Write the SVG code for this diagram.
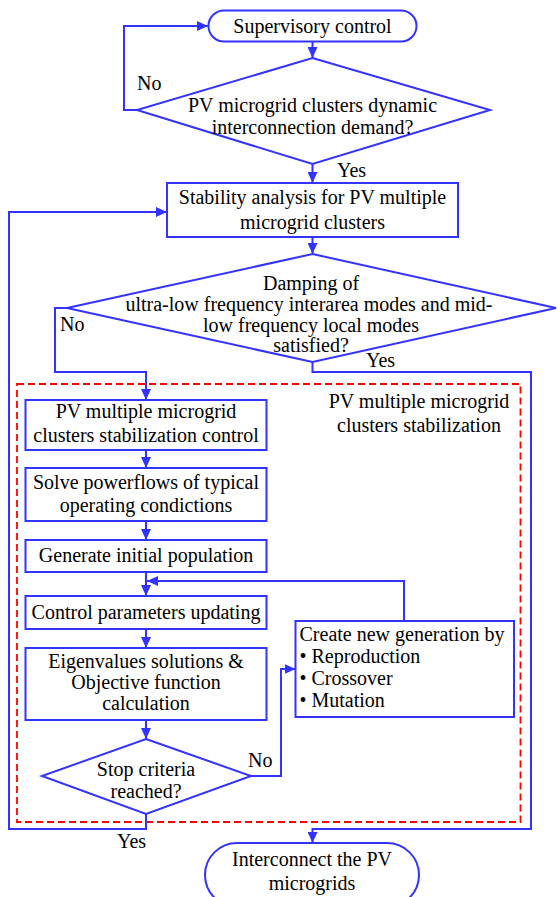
<svg xmlns="http://www.w3.org/2000/svg" width="557" height="897" viewBox="0 0 557 897" font-family="Liberation Serif, serif" font-size="20">
<defs>
<marker id="ah" markerUnits="userSpaceOnUse" markerWidth="12" markerHeight="10" refX="11" refY="5" orient="auto">
<path d="M0,0 L11,5 L0,10 Z" fill="#3333ff"/>
</marker>
</defs>
<rect width="557" height="897" fill="#fff"/>
<g id="cluster">
<rect x="17" y="384" width="503.5" height="438" fill="none" stroke="#ff0000" stroke-width="1.8" stroke-dasharray="7,4"/>
<text text-anchor="middle" style="font-family:Liberation Serif, serif;font-size:20px" x="419" y="408">PV multiple microgrid</text>
<text text-anchor="middle" style="font-family:Liberation Serif, serif;font-size:20px" x="419" y="432">clusters stabilization</text>
</g>
<g id="connectors" fill="none" stroke="#3333ff" stroke-width="2">
<path d="M312.5,41 V58" marker-end="url(#ah)"/>
<path d="M137,110 H124 V26 H208" marker-end="url(#ah)"/>
<path d="M312.5,164 V183" marker-end="url(#ah)"/>
<path d="M312.5,237 V254" marker-end="url(#ah)"/>
<path d="M67,308 H55 V372 H146 V400" marker-end="url(#ah)"/>
<path d="M312.5,362 V372 H531 V829 H312.5 V843" marker-end="url(#ah)"/>
<path d="M146,450 V468" marker-end="url(#ah)"/>
<path d="M146,521 V540" marker-end="url(#ah)"/>
<path d="M146,572 V596" marker-end="url(#ah)"/>
<path d="M404,621 V581 H147" marker-end="url(#ah)"/>
<path d="M146,629 V648" marker-end="url(#ah)"/>
<path d="M146,720 V739" marker-end="url(#ah)"/>
<path d="M251,776 H281 V669 H295.5" marker-end="url(#ah)"/>
<path d="M146,814 V829 H9 V212 H167" marker-end="url(#ah)"/>
</g>
<g id="labels" fill="#000">
<text style="font-family:Liberation Serif, serif;font-size:20px" x="137" y="90">No</text>
<text style="font-family:Liberation Serif, serif;font-size:20px" x="337" y="177">Yes</text>
<text style="font-family:Liberation Serif, serif;font-size:20px" x="60" y="331">No</text>
<text style="font-family:Liberation Serif, serif;font-size:20px" x="366" y="367">Yes</text>
<text style="font-family:Liberation Serif, serif;font-size:20px" x="248" y="767">No</text>
<text style="font-family:Liberation Serif, serif;font-size:20px" x="117" y="848">Yes</text>
</g>
<g id="supervisory">
<rect fill="#fff" stroke="#3333ff" stroke-width="2" x="208.5" y="10.5" width="208" height="31" rx="15.5"/>
<text text-anchor="middle" style="font-family:Liberation Serif, serif;font-size:20px" x="312.5" y="33">Supervisory control</text>
</g>
<g id="demand">
<polygon fill="#fff" stroke="#3333ff" stroke-width="2" points="312.5,58 490,110 312.5,164 137,110"/>
<text text-anchor="middle" style="font-family:Liberation Serif, serif;font-size:20px" x="312.5" y="112">PV microgrid clusters dynamic</text>
<text text-anchor="middle" style="font-family:Liberation Serif, serif;font-size:20px" x="312.5" y="134">interconnection demand?</text>
</g>
<g id="stability">
<rect fill="#fff" stroke="#3333ff" stroke-width="2" x="167" y="183" width="291" height="54"/>
<text text-anchor="middle" style="font-family:Liberation Serif, serif;font-size:20px" x="312.5" y="204">Stability analysis for PV multiple</text>
<text text-anchor="middle" style="font-family:Liberation Serif, serif;font-size:20px" x="312.5" y="229">microgrid clusters</text>
</g>
<g id="damping">
<polygon fill="#fff" stroke="#3333ff" stroke-width="2" points="312.5,254 556,308 312.5,362 67,308"/>
<text text-anchor="middle" style="font-family:Liberation Serif, serif;font-size:20px" x="311" y="290">Damping of</text>
<text text-anchor="middle" style="font-family:Liberation Serif, serif;font-size:20px" x="309" y="311">ultra-low frequency interarea modes and mid-</text>
<text text-anchor="middle" style="font-family:Liberation Serif, serif;font-size:20px" x="311" y="332">low frequency local modes</text>
<text text-anchor="middle" style="font-family:Liberation Serif, serif;font-size:20px" x="311" y="352">satisfied?</text>
</g>
<g id="stab-control">
<rect fill="#fff" stroke="#3333ff" stroke-width="2" x="25.5" y="400" width="241" height="50"/>
<text text-anchor="middle" style="font-family:Liberation Serif, serif;font-size:20px" x="146" y="418">PV multiple microgrid</text>
<text text-anchor="middle" style="font-family:Liberation Serif, serif;font-size:20px" x="146" y="442">clusters stabilization control</text>
</g>
<g id="powerflow">
<rect fill="#fff" stroke="#3333ff" stroke-width="2" x="25.5" y="468" width="241" height="53"/>
<text text-anchor="middle" style="font-family:Liberation Serif, serif;font-size:20px" x="146" y="489">Solve powerflows of typical</text>
<text text-anchor="middle" style="font-family:Liberation Serif, serif;font-size:20px" x="146" y="512">operating condictions</text>
</g>
<g id="init-pop">
<rect fill="#fff" stroke="#3333ff" stroke-width="2" x="25.5" y="540" width="241" height="32"/>
<text text-anchor="middle" style="font-family:Liberation Serif, serif;font-size:20px" x="146" y="562">Generate initial population</text>
</g>
<g id="update">
<rect fill="#fff" stroke="#3333ff" stroke-width="2" x="25.5" y="596" width="241" height="33"/>
<text text-anchor="middle" style="font-family:Liberation Serif, serif;font-size:20px" x="146" y="619">Control parameters updating</text>
</g>
<g id="eigen">
<rect fill="#fff" stroke="#3333ff" stroke-width="2" x="25.5" y="648" width="241" height="72"/>
<text text-anchor="middle" style="font-family:Liberation Serif, serif;font-size:20px" x="146" y="668">Eigenvalues solutions &amp;</text>
<text text-anchor="middle" style="font-family:Liberation Serif, serif;font-size:20px" x="146" y="689">Objective function</text>
<text text-anchor="middle" style="font-family:Liberation Serif, serif;font-size:20px" x="146" y="710">calculation</text>
</g>
<g id="new-gen">
<rect fill="#fff" stroke="#3333ff" stroke-width="2" x="295.5" y="621" width="218.5" height="96"/>
<text style="font-family:Liberation Serif, serif;font-size:20px" x="299.5" y="641">Create new generation by</text>
<text style="font-family:Liberation Serif, serif;font-size:20px" x="299.5" y="663">&#8226; Reproduction</text>
<text style="font-family:Liberation Serif, serif;font-size:20px" x="299.5" y="685">&#8226; Crossover</text>
<text style="font-family:Liberation Serif, serif;font-size:20px" x="299.5" y="707">&#8226; Mutation</text>
</g>
<g id="stop">
<polygon fill="#fff" stroke="#3333ff" stroke-width="2" points="146,739 251,776 146,814 42,776"/>
<text text-anchor="middle" style="font-family:Liberation Serif, serif;font-size:20px" x="146" y="776">Stop criteria</text>
<text text-anchor="middle" style="font-family:Liberation Serif, serif;font-size:20px" x="146" y="798">reached?</text>
</g>
<g id="interconnect">
<rect fill="#fff" stroke="#3333ff" stroke-width="2" x="205" y="843" width="214" height="64" rx="32"/>
<text text-anchor="middle" style="font-family:Liberation Serif, serif;font-size:20px" x="312" y="866">Interconnect the PV</text>
<text text-anchor="middle" style="font-family:Liberation Serif, serif;font-size:20px" x="312" y="890">microgrids</text>
</g>
</svg>
